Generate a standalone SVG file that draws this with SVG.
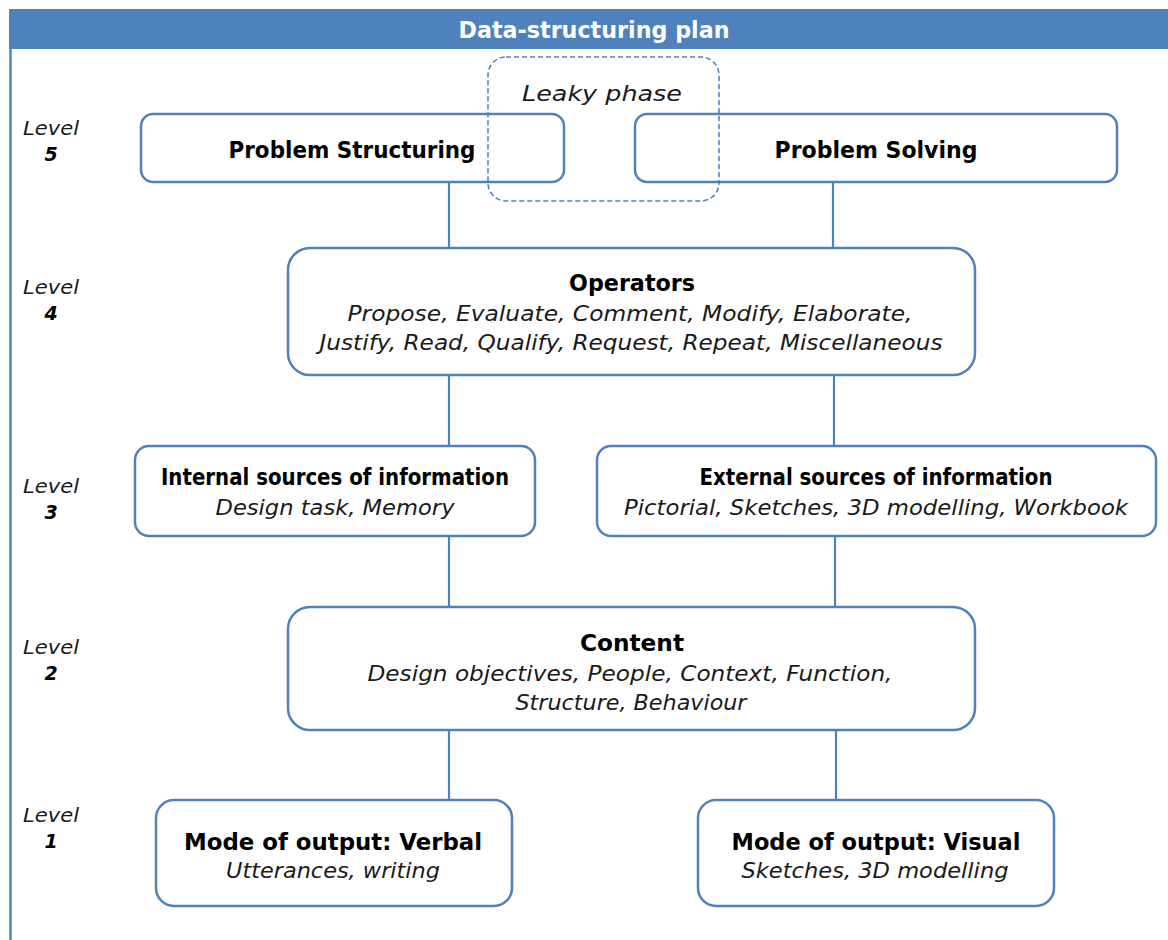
<svg xmlns="http://www.w3.org/2000/svg" width="1168" height="940" viewBox="0 0 1168 940">
  <style>
    .box { fill: #ffffff; stroke: #4F81BD; stroke-width: 2.5; }
    .leaky { fill: none; stroke: #4F81BD; stroke-width: 1.6; stroke-dasharray: 5 3; }
    .link { stroke: #4F81BD; stroke-width: 2.2; fill: none; }
    text { font-family: "DejaVu Sans", "Liberation Sans", sans-serif; fill: #000000; text-anchor: middle; }
    .title { font-weight: bold; font-size: 23px; }
    .sub { font-style: italic; font-size: 22px; fill: #1a1a1a; }
    .lvl { font-style: italic; font-size: 19px; fill: #1a1a1a; }
    .num { font-style: italic; font-weight: bold; font-size: 19px; }
    .head { font-weight: bold; font-size: 23px; fill: #ffffff; }
  </style>

  <!-- frame: header bar and left rule -->
  <g id="frame">
    <rect x="9" y="9" width="1159" height="40" fill="#4F81BD"/>
    <line x1="10.5" y1="48" x2="10.5" y2="940" stroke="#4F81BD" stroke-width="2.5"/>
    <text class="head" x="594" y="38" textLength="271" lengthAdjust="spacingAndGlyphs">Data-structuring plan</text>
  </g>

  <!-- level labels -->
  <g id="levels">
    <text class="lvl" x="51" y="135" textLength="56" lengthAdjust="spacingAndGlyphs">Level</text>
    <text class="num" x="51" y="161">5</text>
    <text class="lvl" x="51" y="294" textLength="56" lengthAdjust="spacingAndGlyphs">Level</text>
    <text class="num" x="51" y="320">4</text>
    <text class="lvl" x="51" y="493" textLength="56" lengthAdjust="spacingAndGlyphs">Level</text>
    <text class="num" x="51" y="519">3</text>
    <text class="lvl" x="51" y="654" textLength="56" lengthAdjust="spacingAndGlyphs">Level</text>
    <text class="num" x="51" y="680">2</text>
    <text class="lvl" x="51" y="822" textLength="56" lengthAdjust="spacingAndGlyphs">Level</text>
    <text class="num" x="51" y="848">1</text>
  </g>

  <!-- connectors -->
  <g id="connectors">
    <line class="link" x1="449" y1="182" x2="449" y2="248"/>
    <line class="link" x1="833" y1="182" x2="833" y2="248"/>
    <line class="link" x1="449" y1="375" x2="449" y2="446"/>
    <line class="link" x1="834" y1="375" x2="834" y2="446"/>
    <line class="link" x1="449" y1="536" x2="449" y2="607"/>
    <line class="link" x1="835" y1="536" x2="835" y2="607"/>
    <line class="link" x1="449" y1="730" x2="449" y2="800"/>
    <line class="link" x1="836" y1="730" x2="836" y2="800"/>
  </g>

  <g id="problem-structuring">
    <rect class="box" x="141" y="114" width="423" height="68" rx="12"/>
    <text class="title" x="352" y="158" textLength="247" lengthAdjust="spacingAndGlyphs">Problem Structuring</text>
  </g>

  <g id="problem-solving">
    <rect class="box" x="635" y="114" width="482" height="68" rx="12"/>
    <text class="title" x="876" y="158" textLength="203" lengthAdjust="spacingAndGlyphs">Problem Solving</text>
  </g>

  <g id="leaky-phase">
    <rect class="leaky" x="488" y="57" width="231" height="144" rx="18"/>
    <text class="sub" x="602" y="101" font-size="24" textLength="160" lengthAdjust="spacingAndGlyphs">Leaky phase</text>
  </g>

  <g id="operators">
    <rect class="box" x="288" y="248" width="687" height="127" rx="22"/>
    <text class="title" x="632" y="291" font-size="24" textLength="126" lengthAdjust="spacingAndGlyphs">Operators</text>
    <text class="sub" x="630" y="321" textLength="565" lengthAdjust="spacingAndGlyphs">Propose, Evaluate, Comment, Modify, Elaborate,</text>
    <text class="sub" x="631" y="350" textLength="623" lengthAdjust="spacingAndGlyphs">Justify, Read, Qualify, Request, Repeat, Miscellaneous</text>
  </g>

  <g id="internal-sources">
    <rect class="box" x="135" y="446" width="400" height="90" rx="14"/>
    <text class="title" x="335" y="485" font-size="21" textLength="348" lengthAdjust="spacingAndGlyphs">Internal sources of information</text>
    <text class="sub" x="335" y="515" textLength="239" lengthAdjust="spacingAndGlyphs">Design task, Memory</text>
  </g>

  <g id="external-sources">
    <rect class="box" x="597" y="446" width="559" height="90" rx="14"/>
    <text class="title" x="876" y="485" font-size="21" textLength="353" lengthAdjust="spacingAndGlyphs">External sources of information</text>
    <text class="sub" x="876" y="515" textLength="504" lengthAdjust="spacingAndGlyphs">Pictorial, Sketches, 3D modelling, Workbook</text>
  </g>

  <g id="content">
    <rect class="box" x="288" y="607" width="687" height="123" rx="22"/>
    <text class="title" x="632" y="651" font-size="24" textLength="104" lengthAdjust="spacingAndGlyphs">Content</text>
    <text class="sub" x="630" y="681" textLength="525" lengthAdjust="spacingAndGlyphs">Design objectives, People, Context, Function,</text>
    <text class="sub" x="631" y="710" textLength="231" lengthAdjust="spacingAndGlyphs">Structure, Behaviour</text>
  </g>

  <g id="output-verbal">
    <rect class="box" x="156" y="800" width="356" height="106" rx="18"/>
    <text class="title" x="333" y="850" font-size="24" textLength="298" lengthAdjust="spacingAndGlyphs">Mode of output: Verbal</text>
    <text class="sub" x="333" y="878" textLength="214" lengthAdjust="spacingAndGlyphs">Utterances, writing</text>
  </g>

  <g id="output-visual">
    <rect class="box" x="698" y="800" width="356" height="106" rx="18"/>
    <text class="title" x="876" y="850" font-size="24" textLength="289" lengthAdjust="spacingAndGlyphs">Mode of output: Visual</text>
    <text class="sub" x="875" y="878" textLength="267" lengthAdjust="spacingAndGlyphs">Sketches, 3D modelling</text>
  </g>
</svg>
